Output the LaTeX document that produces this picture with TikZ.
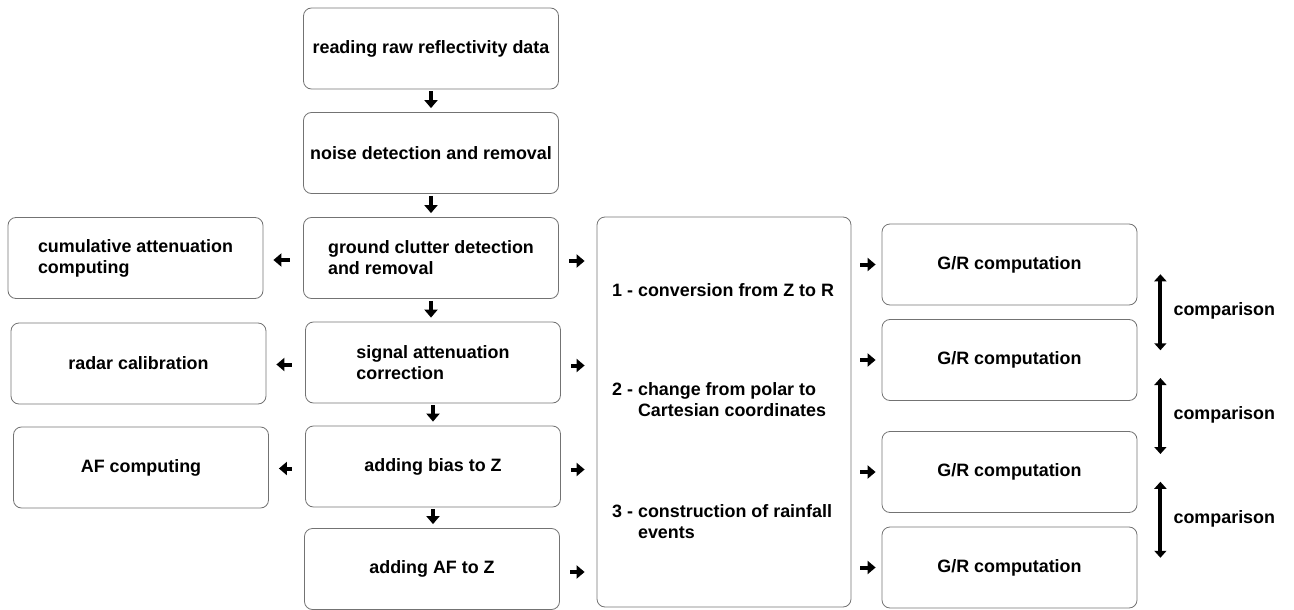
\documentclass[tikz,border=0pt]{standalone}
\usepackage{fontspec}
\setmainfont{Liberation Sans}
\usepackage{tikz}
\usetikzlibrary{arrows.meta, calc}
\tikzset{stage/.style={draw=black!55, line width=0.8pt, rounded corners=8pt, minimum width=255pt, minimum height=81pt, align=left, font=\fontsize{17.9}{21}\selectfont\bfseries}}
\tikzset{txt/.style={align=left, inner sep=0pt, font=\fontsize{17.9}{21}\selectfont\bfseries}}
\tikzset{blk/.style={line width=4pt, -{Triangle[width=13pt, length=8pt]}}}
\tikzset{cmp/.style={line width=4pt, {Triangle[width=12pt, length=7pt]}-{Triangle[width=12pt, length=7pt]}}}

\begin{document}
\begin{tikzpicture}[x=1pt, y=-1pt]
            \useasboundingbox (0, 0) rectangle (1294, 610);
            \node[stage] (read) at (431, 48.5) {reading raw reflectivity data};
            \node[stage] (noise) at (431, 153) {noise detection and removal};
            \node[stage] (clutter) at (431, 258) {ground clutter detection\\and removal};
            \node[stage] (signal) at (433, 362.5) {signal attenuation\\correction};
            \node[stage] (bias) at (433, 466.5) {adding bias to Z};
            \node[stage] (addaf) at (432, 569) {adding AF to Z};
            \node[stage] (cumul) at (135.5, 258) {cumulative attenuation\\computing};
            \node[stage] (calib) at (138.5, 363.5) {radar calibration};
            \node[stage] (afcomp) at (141, 467.5) {AF computing};
            \node[stage, minimum width=254pt, minimum height=390pt] (conv) at (724, 412) {};
            \node[txt, anchor=west] (step1) at (612, 290) {1 - conversion from Z to R};
            \node[txt, anchor=west] (step2) at (612, 400) {2 - change from polar to\\\phantom{2 - }Cartesian coordinates};
            \node[txt, anchor=west] (step3) at (612, 522) {3 - construction of rainfall\\\phantom{3 - }events};
            \foreach \i/\y in {1/264.5, 2/360, 3/472, 4/567.5} {
                \node[stage] (gr\i) at (1009.5, \y) {G/R computation};
            }
            \foreach \a/\b in {read/noise, noise/clutter, clutter/signal, signal/bias, bias/addaf} {
                \draw[blk, shorten <=2pt, shorten >=4pt] (\a.south) -- (\a.south |- \b.north);
            }
            \foreach \a/\b in {clutter/cumul, signal/calib, bias/afcomp} {
                \draw[blk, shorten <=13.5pt, shorten >=10pt] ([yshift=-2pt]\a.west) -- ([yshift=-2pt]\a.west -| \b.east);
            }
            \foreach \a in {clutter, signal, bias, addaf} {
                \draw[blk, shorten <=10.5pt, shorten >=12pt] ([yshift=-3pt]\a.east) -- ([yshift=-3pt]\a.east -| conv.west);
            }
            \foreach \i in {1, ..., 4} {
                \draw[blk, shorten <=9pt, shorten >=6pt] (conv.east |- gr\i.west) -- (gr\i.west);
            }
            \foreach \a/\b in {1/2, 2/3, 3/4} {
                \coordinate (mid\a) at ($(gr\a.east)!0.5!(gr\b.east)$);
                \draw[cmp] ($(mid\a) + (23, -38)$) -- ($(mid\a) + (23, 38)$);
                \node[txt, anchor=west] (cmp\a) at ($(mid\a) + (36, -1)$) {comparison};
            }
        \end{tikzpicture}
\end{document}
